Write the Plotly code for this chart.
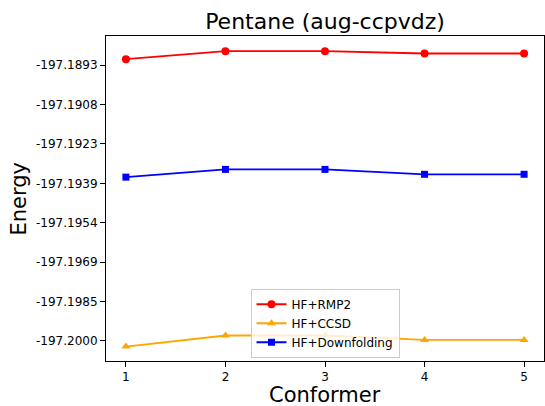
import plotly.graph_objects as go

conformers = [1, 2, 3, 4, 5]
rmp2 = [-197.18905, -197.18874, -197.18874, -197.18883, -197.18883]
ccsd = [-197.20021, -197.19978, -197.19978, -197.19995, -197.19995]
downfolding = [-197.19363, -197.19333, -197.19333, -197.19352, -197.19352]

ytick_vals = [-197.19999, -197.19846, -197.19693, -197.19540, -197.19387, -197.19234, -197.19081, -197.18928]
ytick_text = ["-197.2000", "-197.1985", "-197.1969", "-197.1954", "-197.1939", "-197.1923", "-197.1908", "-197.1893"]
xtick_vals = [1, 2, 3, 4, 5]

FONT = "DejaVu Sans"
W, H = 545, 406
L, R, T, B = 106, 1, 36, 45
PW, PH = W - L - R, H - T - B

fig = go.Figure()
fig.add_trace(go.Scatter(x=conformers, y=rmp2, name="HF+RMP2", mode="lines+markers",
                         line=dict(color="red", width=1.8), marker=dict(symbol="circle", size=8, color="red")))
fig.add_trace(go.Scatter(x=conformers, y=ccsd, name="HF+CCSD", mode="lines+markers",
                         line=dict(color="orange", width=1.8), marker=dict(symbol="triangle-up", size=8, color="orange")))
fig.add_trace(go.Scatter(x=conformers, y=downfolding, name="HF+Downfolding", mode="lines+markers",
                         line=dict(color="blue", width=1.8), marker=dict(symbol="square", size=7, color="blue")))

fig.update_layout(
    width=W, height=H,
    margin=dict(l=L, r=R, t=T, b=B, autoexpand=False),
    paper_bgcolor="white", plot_bgcolor="white",
    font=dict(family=FONT, color="black", size=12),
    title=dict(text="Pentane (aug-ccpvdz)", font=dict(size=22, family=FONT), x=0.5, xref="paper",
               y=1 - 21 / H, yanchor="middle"),
    showlegend=True,
    legend=dict(x=0.5, xanchor="center", y=0.01, yanchor="bottom", bgcolor="rgba(255,255,255,0.8)",
                bordercolor="#cccccc", borderwidth=1, font=dict(size=12, family=FONT),
                tracegroupgap=0, itemwidth=30),
    annotations=[
        dict(text="Conformer", xref="paper", yref="paper", x=0.5, y=-(395 - (T + PH)) / PH,
             xanchor="center", yanchor="middle", height=22, showarrow=False, font=dict(size=21, family=FONT)),
        dict(text="Energy", xref="paper", yref="paper", x=-(L - 18) / PW, y=0.5, textangle=-90,
             xanchor="center", yanchor="middle", showarrow=False, font=dict(size=21, family=FONT)),
    ],
)
fig.update_xaxes(range=[0.8, 5.2], tickvals=xtick_vals, ticks="outside", ticklen=5, tickcolor="black",
                 showline=True, linecolor="black", linewidth=1, mirror=True, showgrid=False, zeroline=False,
                 automargin=False, tickfont=dict(size=12))
fig.update_yaxes(range=[-197.20077, -197.18815], tickvals=ytick_vals, ticktext=ytick_text, ticks="outside",
                 ticklen=5, tickcolor="black", showline=True, linecolor="black", linewidth=1, mirror=True,
                 showgrid=False, zeroline=False, automargin=False, tickfont=dict(size=12))

fig.write_html("out.html")
